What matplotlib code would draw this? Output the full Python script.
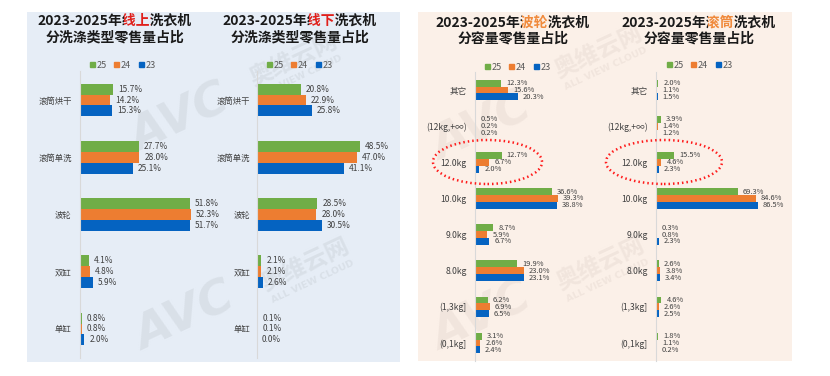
import matplotlib
matplotlib.use('Agg')
import matplotlib.pyplot as plt
from matplotlib.patches import Rectangle, Ellipse
from matplotlib.lines import Line2D
import numpy as np

plt.rcParams['font.family'] = ['Noto Sans CJK SC', 'DejaVu Sans']

# ---------------- data ----------------
years = ['25', '24', '23']
series_colors = ['#70AD47', '#ED7D31', '#0563C1']

type_cats = ['滚筒烘干', '滚筒单洗', '波轮', '双缸', '单缸']
online_25 = [15.7, 27.7, 51.8, 4.1, 0.8]
online_24 = [14.2, 28.0, 52.3, 4.8, 0.8]
online_23 = [15.3, 25.1, 51.7, 5.9, 2.0]
offline_25 = [20.8, 48.5, 28.5, 2.1, 0.1]
offline_24 = [22.9, 47.0, 28.0, 2.1, 0.1]
offline_23 = [25.8, 41.1, 30.5, 2.6, 0.0]

cap_cats = ['其它', '(12kg,+∞)', '12.0kg', '10.0kg', '9.0kg', '8.0kg', '(1,3kg]', '(0,1kg]']
pulsator_25 = [12.3, 0.5, 12.7, 36.6, 8.7, 19.9, 6.2, 3.1]
pulsator_24 = [15.6, 0.2, 6.7, 39.3, 5.9, 23.0, 6.9, 2.6]
pulsator_23 = [20.3, 0.2, 2.0, 38.8, 6.7, 23.1, 6.5, 2.4]
drum_25 = [2.0, 3.9, 15.5, 69.3, 0.3, 2.6, 4.6, 1.8]
drum_24 = [1.1, 1.4, 4.6, 84.6, 0.8, 3.8, 2.6, 1.1]
drum_23 = [1.5, 1.2, 2.3, 86.5, 2.3, 3.4, 2.5, 0.2]

# ---------------- figure ----------------
W, H = 830, 376
fig = plt.figure(figsize=(W / 100, H / 100), dpi=100)
fig.patch.set_facecolor('white')


def fx(x):
    return x / W


def fy(y):
    return 1 - y / H


# panel backgrounds
bg_left = Rectangle((fx(27), fy(362)), (400 - 27) / W, (362 - 12) / H,
                    transform=fig.transFigure, facecolor='#E6EDF6', edgecolor='none', zorder=-3)
bg_right = Rectangle((fx(418), fy(361)), (792 - 418) / W, (361 - 12) / H,
                     transform=fig.transFigure, facecolor='#FBF0E8', edgecolor='none', zorder=-3)
fig.add_artist(bg_left)
fig.add_artist(bg_right)


def watermark(cx_avc, cy_avc, cx_cn, cy_cn, color, clip):
    items = [
        ('AVC', cx_avc, cy_avc, 34, 'DejaVu Sans', 'italic'),
        ('奥维云网', cx_cn, cy_cn, 17, None, 'normal'),
        ('ALL VIEW CLOUD', cx_cn + 8, cy_cn + 17, 6.8, 'DejaVu Sans', 'normal'),
    ]
    for s, x, y, fs, fam, st in items:
        kw = {}
        if fam:
            kw['family'] = fam
        t = fig.text(fx(x), fy(y), s, fontsize=fs, fontweight='bold', style=st,
                     color=color, rotation=25, ha='center', va='center',
                     rotation_mode='anchor', zorder=-2, **kw)
        t.set_clip_path(clip)
        t.set_clip_on(True)


wm_l = '#D9E0E8'
wm_r = '#F1E5DD'
watermark(185, 318, 305, 265, wm_l, bg_left)
watermark(180, 120, 293, 60, wm_l, bg_left)
watermark(482, 318, 600, 264, wm_r, bg_right)
watermark(482, 128, 598, 52, wm_r, bg_right)


def make_ax(left, top, bottom, width, px_per_unit):
    ax = fig.add_axes([fx(left), fy(bottom), width / W, (bottom - top) / H])
    ax.set_facecolor('none')
    ax.set_xlim(0, width / px_per_unit)
    for s in ['top', 'right', 'bottom']:
        ax.spines[s].set_visible(False)
    ax.spines['left'].set_color('#D9D9D9')
    ax.spines['left'].set_linewidth(0.8)
    ax.set_xticks([])
    return ax


def draw_bars(ax, cats, vals, bh, cat_fs, lab_fs, pad):
    n = len(cats)
    y = np.arange(n)
    offsets = [-bh, 0, bh]
    for v, off, c in zip(vals, offsets, series_colors):
        ax.barh(y + off, v, height=bh, color=c, edgecolor='none', zorder=2)
        for yi, vi in zip(y, v):
            ax.annotate(f'{vi:.1f}%', (vi, yi + off), xytext=(3.6, 0),
                        textcoords='offset points', va='center', ha='left',
                        fontsize=lab_fs, color='#404040', zorder=3,
                        annotation_clip=False)
    ax.set_ylim(n - 0.5, -0.5)
    ax.set_yticks(y)
    ax.set_yticklabels(cats, fontsize=cat_fs, color='#404040')
    ax.tick_params(axis='y', length=0, pad=pad)


ax1 = make_ax(80, 71.4, 357.6, 120, 2.12)
draw_bars(ax1, type_cats, [online_25, online_24, online_23], 0.19, 6, 6, 6)
ax2 = make_ax(257, 71.4, 357.6, 120, 2.12)
draw_bars(ax2, type_cats, [offline_25, offline_24, offline_23], 0.19, 6, 6, 5)
ax3 = make_ax(475, 72, 361, 100, 2.11)
draw_bars(ax3, cap_cats, [pulsator_25, pulsator_24, pulsator_23], 0.19, 6.2, 5.4, 6)
ax4 = make_ax(656, 72, 361, 115, 1.18)
draw_bars(ax4, cap_cats, [drum_25, drum_24, drum_23], 0.19, 6.2, 5.4, 6)

# legends
handles = [Line2D([], [], marker='s', linestyle='', markersize=3.6, color=c) for c in series_colors]
for cx, cy in [(122, 65), (299, 65), (517, 67), (699, 65)]:
    fig.legend(handles, years, loc='center', bbox_to_anchor=(fx(cx), fy(cy)),
               bbox_transform=fig.transFigure, ncol=3, frameon=False, fontsize=6.5,
               handletextpad=0.1, columnspacing=0.7, handlelength=0.8,
               labelcolor='#595959', borderpad=0)

# titles
renderer = fig.canvas.get_renderer()
TFS = 10


def text_width(s):
    t = fig.text(0, 0, s, fontsize=TFS, fontweight='bold')
    w = t.get_window_extent(renderer).width
    t.remove()
    return w


def title_line(cx, cy, prefix, hl, suffix, hl_color, dark='#1A1A1A'):
    full = prefix + hl + suffix
    if not hl:
        fig.text(fx(cx), fy(cy), full, fontsize=TFS, fontweight='bold', color=dark,
                 ha='center', va='center', zorder=4)
        return
    wfull = text_width(full)
    x0 = cx - wfull / 2
    a = x0 + text_width(prefix) + 1.0
    b = x0 + text_width(prefix + hl) + 1.0
    segs = [(x0 - 20, a, dark), (a, b, hl_color), (b, x0 + wfull + 20, dark)]
    for s0, s1, col in segs:
        t = fig.text(fx(x0), fy(cy), full, fontsize=TFS, fontweight='bold', color=col,
                     ha='left', va='center', zorder=4)
        clip = Rectangle((fx(s0), fy(cy + 15)), (s1 - s0) / W, 30 / H,
                         transform=fig.transFigure, facecolor='none', edgecolor='none')
        t.set_clip_path(clip)
        t.set_clip_on(True)


red = '#E0201B'
orange = '#F08A3C'
title_line(115, 20.5, '2023-2025年', '线上', '洗衣机', red)
title_line(115, 37.5, '分洗涤类型零售量占比', '', '', red)
title_line(300, 20.5, '2023-2025年', '线下', '洗衣机', red)
title_line(300, 37.5, '分洗涤类型零售量占比', '', '', red)
title_line(513, 23, '2023-2025年', '波轮', '洗衣机', orange)
title_line(513, 39, '分容量零售量占比', '', '', orange)
title_line(699, 23, '2023-2025年', '滚筒', '洗衣机', orange)
title_line(699, 39, '分容量零售量占比', '', '', orange)

# red dotted ellipses highlighting 12.0kg
for cx, cy, w, h in [(487.5, 162, 109, 44), (664, 162, 116, 44)]:
    e = Ellipse((fx(cx), fy(cy)), w / W, h / H, transform=fig.transFigure,
                facecolor='none', edgecolor='#FF1A1A', linewidth=1.8,
                linestyle=(0, (0.6, 1.2)), zorder=6)
    fig.add_artist(e)

fig.savefig('out.png', dpi=100, facecolor='white')
